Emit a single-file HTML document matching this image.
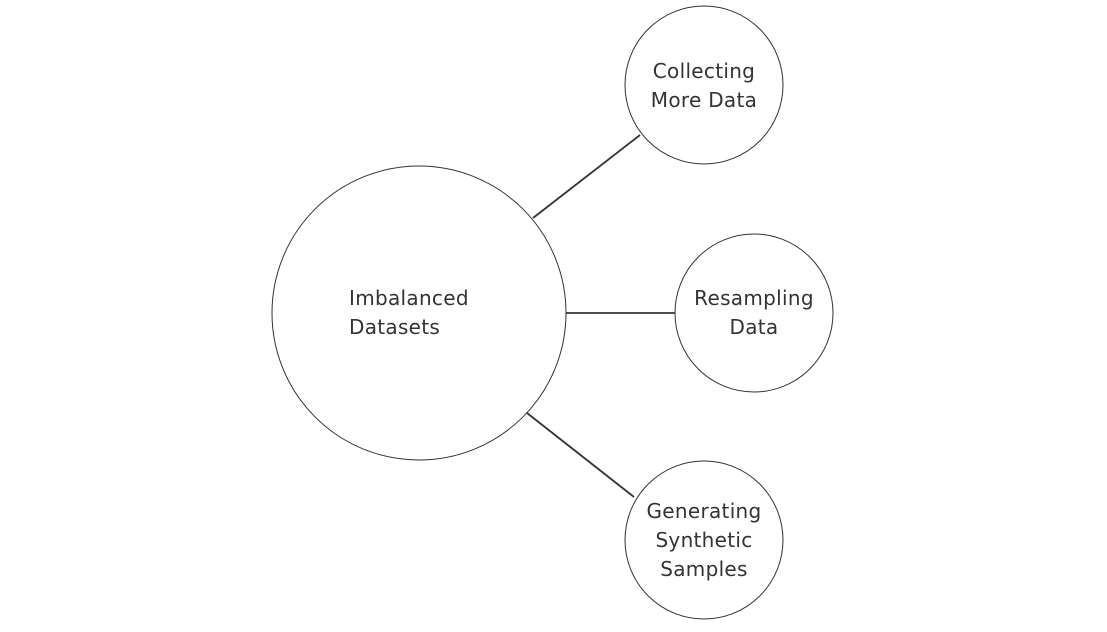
<!DOCTYPE html>
<html><head><meta charset="utf-8"><style>
html,body{margin:0;padding:0;background:#fff;}
svg text{font-family:"DejaVu Sans","Liberation Sans",sans-serif;font-size:20px;fill:#333;letter-spacing:0.3px;}
</style></head><body>
<svg width="1107" height="627" viewBox="0 0 1107 627" xmlns="http://www.w3.org/2000/svg">
<g fill="#fff" stroke="#333" stroke-width="1">
<circle cx="419" cy="313" r="147"/>
<circle cx="704" cy="85" r="79"/>
<circle cx="754" cy="313" r="79"/>
<circle cx="704" cy="540" r="79"/>
</g>
<g stroke="#333" stroke-width="1.8">
<line x1="533" y1="218" x2="640" y2="135"/>
<line x1="566" y1="313" x2="675" y2="313"/>
<line x1="527" y1="413" x2="634" y2="497"/>
</g>
<text x="349" y="305">Imbalanced</text>
<text x="349" y="334">Datasets</text>
<text x="704" y="78" text-anchor="middle">Collecting</text>
<text x="704" y="107" text-anchor="middle">More Data</text>
<text x="754" y="305" text-anchor="middle">Resampling</text>
<text x="754" y="334" text-anchor="middle">Data</text>
<text x="704" y="518" text-anchor="middle">Generating</text>
<text x="704" y="547" text-anchor="middle">Synthetic</text>
<text x="704" y="576" text-anchor="middle">Samples</text>
</svg>
</body></html>
